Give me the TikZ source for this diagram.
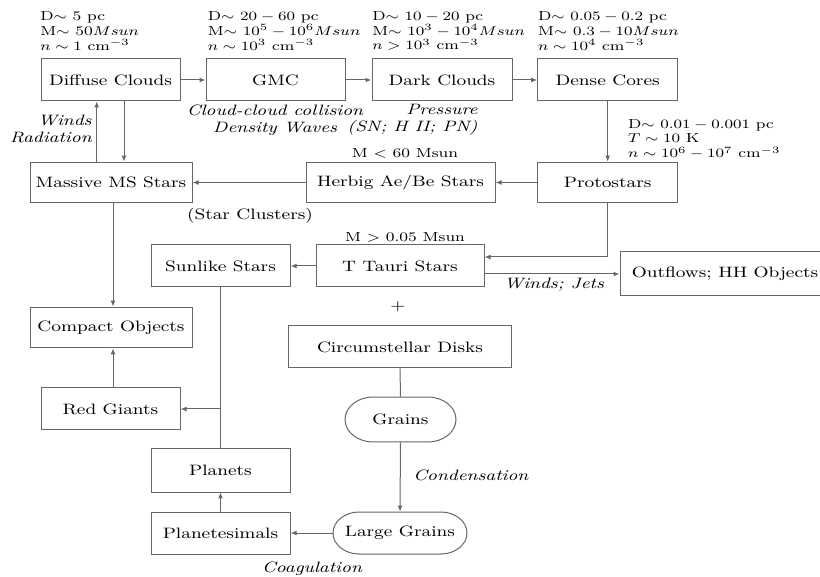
\documentclass[tikz,border=0pt]{standalone}
\usetikzlibrary{arrows.meta,shapes.misc}
\begin{document}
\begin{tikzpicture}[x=0.5pt,y=-0.5pt,
  sq/.style={yscale=0.8},
  mainf/.style={font=\fontsize{9.4}{11}\selectfont},
  box/.style={sq, mainf, draw=black!60, line width=0.5pt, inner sep=0pt, minimum height=26.25pt},
  pill/.style={box, rounded rectangle},
  note/.style={sq, font=\fontsize{8.2}{9.2}\selectfont, inner sep=0pt, align=left},
  lbl/.style={sq, mainf, inner sep=0pt},
  ital/.style={sq, font=\fontsize{9.4}{10.5}\selectfont\itshape, inner sep=0pt},
  conn/.style={draw=black!60, line width=0.5pt},
  arr/.style={conn, -{Latex[length=3pt,width=2.4pt]}}]
\useasboundingbox (0,0) rectangle (820,577);

\node[box, minimum width=69.5pt] (dif) at (110.5,80) {Diffuse Clouds};
\node[box, minimum width=69.5pt] (gmc) at (275.5,80) {GMC};
\node[box, minimum width=70pt] (dark) at (442,80) {Dark Clouds};
\node[box, minimum width=70pt] (dense) at (607.7,80) {Dense Cores};
\node[box, minimum width=81pt, minimum height=25.6pt] (mms) at (111,182.5) {Massive MS Stars};
\node[box, minimum width=94.5pt, minimum height=25.6pt] (herb) at (400.5,182.5) {Herbig Ae/Be Stars};
\node[box, minimum width=70pt, minimum height=25.6pt] (proto) at (607.7,182.5) {Protostars};
\node[box, minimum width=69.5pt] (sun) at (220.5,266) {Sunlike Stars};
\node[box, minimum width=84pt] (tt) at (400,266) {T Tauri Stars};
\node[box, minimum width=105pt, minimum height=26.9pt] (out) at (725,273.5) {Outflows; HH Objects};
\node[box, minimum width=81pt, minimum height=25.6pt] (comp) at (111,327.5) {Compact Objects};
\node[box, minimum width=111.5pt] (circ) at (400,347) {Circumstellar Disks};
\node[box, minimum width=69.5pt] (red) at (110.5,409) {Red Giants};
\node[pill, minimum width=55.5pt, minimum height=28.1pt] (gr) at (400.5,419.5) {Grains};
\node[box, minimum width=69.5pt, minimum height=26.9pt] (pl) at (220.5,470.5) {Planets};
\node[box, minimum width=69.5pt] (pls) at (220.5,533) {Planetesimals};
\node[pill, minimum width=67pt] (lg) at (400,533) {Large Grains};

\node[note, anchor=west] (a1) at (40,31) {D$\sim$ 5 pc\\M$\sim$ 50$Msun$\\$n\sim 1$ cm$^{-3}$};
\node[note, anchor=west] (a2) at (207.5,31) {D$\sim$ $20-60$ pc\\M$\sim$ $10^5-10^6Msun$\\$n\sim 10^3$ cm$^{-3}$};
\node[note, anchor=west] (a3) at (372,31) {D$\sim$ $10-20$ pc\\M$\sim$ $10^3-10^4Msun$\\$n>10^3$ cm$^{-3}$};
\node[note, anchor=west] (a4) at (537.7,31) {D$\sim$ $0.05-0.2$ pc\\M$\sim$ $0.3-10Msun$\\$n\sim 10^4$ cm$^{-3}$};
\node[note, anchor=west] (a5) at (627.7,139) {D$\sim$ $0.01-0.001$ pc\\$T\sim 10$ K\\$n\sim 10^6-10^7$ cm$^{-3}$};

\node[note] (m60) at (405,153) {M $<$ 60 Msun};
\node[note] (m005) at (405,237) {M $>$ 0.05 Msun};
\node[lbl] (sc) at (250,216) {(Star Clusters)};
\node[lbl] (plus) at (398,307) {+};
\node[ital, align=center] (ccc) at (275,120) {Cloud-cloud collision\\Density Waves};
\node[ital, align=right, anchor=east] (pres) at (478,120) {Pressure\\(SN; H II; PN)};
\node[ital, align=right, anchor=east] (wr) at (92,129) {Winds\\Radiation};
\node[ital] (wj) at (554,285) {Winds; Jets};
\node[ital, anchor=west] (cond) at (413,475) {Condensation};
\node[ital] (coag) at (312,569) {Coagulation};

\coordinate (xw) at (96.7,0);
\coordinate (xr) at (124,0);
\coordinate (xc) at (113,0);
\coordinate (y257) at (0,257);
\coordinate (y274) at (0,274);

\draw[arr] (dif) -- (gmc);
\draw[arr] (gmc) -- (dark);
\draw[arr] (dark) -- (dense);
\draw[arr] (dense) -- (proto);
\draw[arr] (proto) -- (herb);
\draw[arr] (herb) -- (mms);
\draw[arr] (mms.north -| xw) -- (dif.south -| xw);
\draw[arr] (dif.south -| xr) -- (mms.north -| xr);
\draw[arr] (mms.south -| xc) -- (comp.north -| xc);
\draw[arr] (red.north -| xc) -- (comp.south -| xc);
\draw[arr] (proto.south) |- (tt.east |- y257);
\draw[arr] (tt.east |- y274) -- (out.west |- y274);
\draw[arr] (tt) -- (sun);
\draw[conn] (sun.south) -- (pl.north);
\draw[arr] (sun.south |- red.east) -- (red.east);
\draw[conn] (circ.south) -- (gr.north);
\draw[arr] (gr.south) -- (lg.north);
\draw[arr] (lg) -- (pls);
\draw[arr] (pls) -- (pl);
\end{tikzpicture}
\end{document}
